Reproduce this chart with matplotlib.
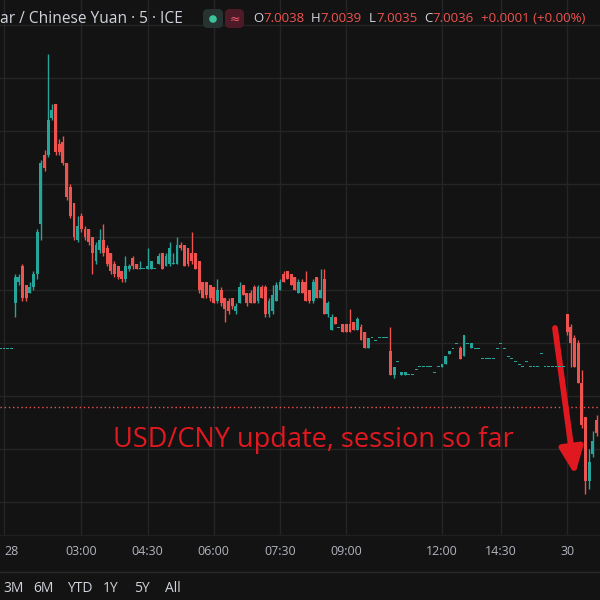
import numpy as np
import matplotlib.pyplot as plt
from matplotlib.patches import FancyBboxPatch, Circle
from matplotlib.lines import Line2D
from matplotlib.ticker import MultipleLocator

# 5-minute bars, USD/CNY
opens = [
    7.0058, 7.0058, 7.0058, 7.0058, 7.0075, 7.0083, 7.0089, 7.0082, 7.0079, 7.0081,
    7.0086, 7.0105, 7.0131, 7.0131, 7.0145, 7.0150, 7.0135, 7.0136, 7.0128, 7.0119,
    7.0113, 7.0099, 7.0108, 7.0103, 7.0103, 7.0100, 7.0091, 7.0095, 7.0099, 7.0096,
    7.0094, 7.0090, 7.0089, 7.0087, 7.0084, 7.0088, 7.0092, 7.0090, 7.0088, 7.0088,
    7.0088, 7.0088, 7.0088, 7.0090, 7.0094, 7.0089, 7.0090, 7.0090, 7.0090, 7.0097,
    7.0097, 7.0096, 7.0094, 7.0094, 7.0091, 7.0083, 7.0083, 7.0082, 7.0081, 7.0076,
    7.0080, 7.0077, 7.0076, 7.0077, 7.0072, 7.0075, 7.0082, 7.0079, 7.0079, 7.0081,
    7.0076, 7.0081, 7.0081, 7.0071, 7.0072, 7.0076, 7.0080, 7.0086, 7.0087, 7.0086,
    7.0085, 7.0079, 7.0083, 7.0083, 7.0080, 7.0076, 7.0085, 7.0077, 7.0084, 7.0071,
    7.0065, 7.0070, 7.0066, 7.0067, 7.0067, 7.0067, 7.0068, 7.0065, 7.0066, 7.0064,
    7.0058, 7.0062, 7.0061, 7.0062, 7.0062, 7.0062, 7.0057, 7.0048, 7.0053, 7.0048,
    7.0048, 7.0048, 7.0048, 7.0050, 7.0051, 7.0051, 7.0051, 7.0051, 7.0049, 7.0051,
    7.0051, 7.0052, 7.0056, 7.0058, 7.0060, 7.0058, 7.0055, 7.0060, 7.0058, 7.0058,
    7.0058, 7.0054, 7.0054, 7.0054, 7.0054, 7.0058, 7.0060, 7.0058, 7.0055, 7.0054,
    7.0053, 7.0052, 7.0051, 7.0053, 7.0051, 7.0051, 7.0051, 7.0056, 7.0051, 7.0051,
    7.0051, 7.0051, 7.0051, 7.0051, 7.0071, 7.0066, 7.0062, 7.0060, 7.0045, 7.0032,
    7.0008, 7.0018, 7.0031,
]
highs = [
    7.0058, 7.0058, 7.0058, 7.0058, 7.0086, 7.0086, 7.0090, 7.0082, 7.0083, 7.0087,
    7.0103, 7.0129, 7.0133, 7.0169, 7.0150, 7.0150, 7.0137, 7.0138, 7.0128, 7.0120,
    7.0113, 7.0108, 7.0109, 7.0104, 7.0103, 7.0100, 7.0098, 7.0103, 7.0105, 7.0097,
    7.0094, 7.0091, 7.0089, 7.0087, 7.0093, 7.0090, 7.0093, 7.0090, 7.0091, 7.0088,
    7.0096, 7.0091, 7.0088, 7.0094, 7.0094, 7.0094, 7.0098, 7.0094, 7.0100, 7.0098,
    7.0097, 7.0096, 7.0102, 7.0094, 7.0091, 7.0083, 7.0083, 7.0082, 7.0081, 7.0084,
    7.0081, 7.0077, 7.0077, 7.0077, 7.0075, 7.0083, 7.0082, 7.0079, 7.0080, 7.0082,
    7.0082, 7.0082, 7.0082, 7.0077, 7.0082, 7.0083, 7.0084, 7.0087, 7.0087, 7.0086,
    7.0085, 7.0084, 7.0084, 7.0087, 7.0080, 7.0084, 7.0085, 7.0088, 7.0088, 7.0076,
    7.0071, 7.0070, 7.0066, 7.0067, 7.0067, 7.0073, 7.0068, 7.0070, 7.0067, 7.0064,
    7.0062, 7.0062, 7.0061, 7.0062, 7.0062, 7.0062, 7.0066, 7.0051, 7.0053, 7.0049,
    7.0049, 7.0048, 7.0048, 7.0050, 7.0051, 7.0051, 7.0051, 7.0051, 7.0049, 7.0051,
    7.0052, 7.0055, 7.0057, 7.0058, 7.0060, 7.0059, 7.0063, 7.0060, 7.0060, 7.0058,
    7.0058, 7.0054, 7.0054, 7.0054, 7.0054, 7.0058, 7.0060, 7.0058, 7.0055, 7.0054,
    7.0053, 7.0052, 7.0051, 7.0053, 7.0051, 7.0051, 7.0051, 7.0056, 7.0051, 7.0051,
    7.0051, 7.0051, 7.0051, 7.0051, 7.0071, 7.0067, 7.0063, 7.0061, 7.0050, 7.0032,
    7.0020, 7.0027, 7.0033,
]
lows = [
    7.0058, 7.0058, 7.0058, 7.0058, 7.0070, 7.0082, 7.0076, 7.0076, 7.0079, 7.0080,
    7.0084, 7.0099, 7.0125, 7.0130, 7.0144, 7.0131, 7.0131, 7.0127, 7.0114, 7.0107,
    7.0099, 7.0098, 7.0102, 7.0099, 7.0097, 7.0086, 7.0090, 7.0094, 7.0093, 7.0089,
    7.0086, 7.0085, 7.0084, 7.0083, 7.0083, 7.0087, 7.0088, 7.0088, 7.0088, 7.0088,
    7.0088, 7.0088, 7.0088, 7.0090, 7.0088, 7.0089, 7.0089, 7.0090, 7.0090, 7.0095,
    7.0089, 7.0089, 7.0090, 7.0088, 7.0079, 7.0077, 7.0077, 7.0076, 7.0075, 7.0075,
    7.0074, 7.0068, 7.0071, 7.0073, 7.0071, 7.0075, 7.0078, 7.0074, 7.0075, 7.0075,
    7.0075, 7.0077, 7.0070, 7.0070, 7.0071, 7.0076, 7.0080, 7.0083, 7.0084, 7.0082,
    7.0080, 7.0079, 7.0079, 7.0076, 7.0075, 7.0075, 7.0077, 7.0077, 7.0071, 7.0070,
    7.0065, 7.0067, 7.0066, 7.0064, 7.0064, 7.0064, 7.0065, 7.0065, 7.0061, 7.0058,
    7.0058, 7.0062, 7.0061, 7.0062, 7.0062, 7.0062, 7.0048, 7.0047, 7.0053, 7.0048,
    7.0048, 7.0048, 7.0048, 7.0050, 7.0051, 7.0051, 7.0051, 7.0051, 7.0049, 7.0051,
    7.0051, 7.0052, 7.0056, 7.0058, 7.0060, 7.0054, 7.0055, 7.0060, 7.0058, 7.0058,
    7.0058, 7.0054, 7.0054, 7.0054, 7.0054, 7.0058, 7.0060, 7.0058, 7.0055, 7.0054,
    7.0053, 7.0052, 7.0051, 7.0053, 7.0051, 7.0051, 7.0051, 7.0056, 7.0051, 7.0051,
    7.0051, 7.0051, 7.0051, 7.0051, 7.0063, 7.0051, 7.0051, 7.0045, 7.0028, 7.0003,
    7.0005, 7.0017, 7.0025,
]
closes = [
    7.0058, 7.0058, 7.0058, 7.0058, 7.0085, 7.0085, 7.0077, 7.0077, 7.0081, 7.0086,
    7.0102, 7.0128, 7.0126, 7.0144, 7.0148, 7.0132, 7.0132, 7.0128, 7.0115, 7.0108,
    7.0100, 7.0104, 7.0103, 7.0100, 7.0098, 7.0094, 7.0097, 7.0099, 7.0094, 7.0090,
    7.0087, 7.0086, 7.0085, 7.0084, 7.0089, 7.0089, 7.0089, 7.0088, 7.0088, 7.0088,
    7.0089, 7.0091, 7.0088, 7.0093, 7.0088, 7.0093, 7.0096, 7.0090, 7.0097, 7.0096,
    7.0089, 7.0090, 7.0091, 7.0088, 7.0080, 7.0077, 7.0078, 7.0077, 7.0075, 7.0080,
    7.0075, 7.0073, 7.0072, 7.0074, 7.0074, 7.0081, 7.0078, 7.0075, 7.0075, 7.0075,
    7.0081, 7.0077, 7.0071, 7.0076, 7.0078, 7.0082, 7.0083, 7.0083, 7.0084, 7.0082,
    7.0080, 7.0083, 7.0079, 7.0076, 7.0076, 7.0083, 7.0077, 7.0080, 7.0071, 7.0075,
    7.0070, 7.0067, 7.0066, 7.0064, 7.0064, 7.0064, 7.0065, 7.0069, 7.0061, 7.0058,
    7.0062, 7.0062, 7.0061, 7.0062, 7.0062, 7.0062, 7.0048, 7.0051, 7.0053, 7.0049,
    7.0049, 7.0048, 7.0048, 7.0050, 7.0051, 7.0051, 7.0051, 7.0051, 7.0049, 7.0051,
    7.0052, 7.0055, 7.0057, 7.0058, 7.0060, 7.0054, 7.0063, 7.0060, 7.0060, 7.0058,
    7.0058, 7.0054, 7.0054, 7.0054, 7.0054, 7.0058, 7.0060, 7.0058, 7.0055, 7.0054,
    7.0053, 7.0052, 7.0051, 7.0053, 7.0051, 7.0051, 7.0051, 7.0056, 7.0051, 7.0051,
    7.0051, 7.0051, 7.0051, 7.0051, 7.0064, 7.0060, 7.0051, 7.0045, 7.0029, 7.0008,
    7.0015, 7.0023, 7.0026,
]

tick_bars = [1, 22, 40, 58, 76, 94, 120, 136, 154]
tick_labels = ['28', '03:00', '04:30', '06:00', '07:30', '09:00', '12:00', '14:30', '30']
last_price = 7.0036

header_title = 'ar / Chinese Yuan · 5 · ICE'
header_ohlc = [('O', '7.0038'), ('H', '7.0039'), ('L', '7.0035'), ('C', '7.0036')]
header_change = '+0.0001 (+0.00%)'
range_buttons = ['3M', '6M', 'YTD', '1Y', '5Y', 'All']
note = 'USD/CNY update, session so far'

BG = '#131313'
GRID = '#252525'
UP = '#26a69a'
DOWN = '#ef5350'
TXT = '#d1d4dc'
NOTE_RED = '#e0181f'

plt.rcParams['font.family'] = ['Open Sans', 'DejaVu Sans']

W, H = 600, 600
fig = plt.figure(figsize=(6, 6), dpi=100, facecolor=BG)
ax = fig.add_axes([0, 65 / H, 1, 535 / H], facecolor=BG)

o, hi, lo, c = map(np.array, (opens, highs, lows, closes))
x = np.arange(len(o))
col = np.where(c >= o, UP, DOWN)

# candles: wicks then bodies (flat bars still get a thin dash)
ax.vlines(x, lo, hi, colors=col, linewidth=1, zorder=3)
body = np.maximum(np.abs(c - o), 0.00004)
ax.bar(x, body, bottom=(o + c) / 2 - body / 2, width=0.78, color=col,
       linewidth=0, zorder=4)

# last price line
ax.axhline(last_price, color=DOWN, lw=1, ls=(0, (1, 2)), zorder=2)

ax.set_xlim(-0.1, 162.95)
ax.set_ylim(6.99876, 7.01894)
ax.yaxis.set_major_locator(MultipleLocator(0.002))
ax.set_xticks(tick_bars)
ax.set_xticklabels(tick_labels)
ax.grid(True, color=GRID, lw=1)
ax.set_axisbelow(True)
ax.tick_params(axis='x', length=0, pad=7, colors='#b2b5be', labelsize=9)
ax.tick_params(axis='y', left=False, labelleft=False)
# the first day label sits at the very left edge: keep it inside the figure
first = ax.get_xticklabels()[0]
first.set_horizontalalignment('left')
first.set_x(-0.1)
for s in ax.spines.values():
    s.set_visible(False)


def fx(px):
    return px / W


def fy(py):
    return 1 - py / H


# separators of the time scale / bottom toolbar
fig.add_artist(Line2D([0, 1], [fy(535)] * 2, color='#202020', lw=1))
fig.add_artist(Line2D([0, 1], [fy(572)] * 2, color='#2a2a2a', lw=1))

# annotation
fig.text(fx(113), fy(440), note, color=NOTE_RED, fontsize=19.5, va='center', ha='left')
ax.annotate('', xy=(575, H - 475), xycoords='figure pixels',
            xytext=(555, H - 328), textcoords='figure pixels',
            arrowprops=dict(arrowstyle='-|>,head_length=0.8,head_width=0.35',
                            mutation_scale=20, color=NOTE_RED, lw=4.2,
                            shrinkA=0, shrinkB=0))

# header
fig.canvas.draw()
r = fig.canvas.get_renderer()
hy = fy(19)


def put(xpix, s, color, size=9.5):
    t = fig.text(fx(xpix), hy, s, color=color, fontsize=size, va='center', ha='left')
    return t.get_window_extent(renderer=r).x1


put(0, header_title, TXT, size=11.2)
fig.add_artist(FancyBboxPatch((fx(203), fy(28)), fx(20), 19 / H,
                              boxstyle='round,pad=0,rounding_size=0.008',
                              transform=fig.transFigure, fc='#263330', ec='none'))
fig.add_artist(Circle((fx(213), hy), 3.8 / W, transform=fig.transFigure,
                      fc='#3cc39a', ec='none'))
fig.add_artist(FancyBboxPatch((fx(225), fy(28)), fx(19), 19 / H,
                              boxstyle='round,pad=0,rounding_size=0.008',
                              transform=fig.transFigure, fc='#4d1a28', ec='none'))
fig.text(fx(234.5), hy, '≈', color='#f05a73', fontsize=9, ha='center', va='center',
         family='DejaVu Sans')

xp = 253
for k, v in header_ohlc:
    xe = put(xp, k, TXT)
    xe = put(xe, v, DOWN)
    xp = xe + 7
put(xp, header_change, DOWN)

# range buttons
for b, bx in zip(range_buttons, [3, 33, 67, 103, 134, 165]):
    fig.text(fx(bx), fy(588), b, color=TXT, fontsize=10, va='center', ha='left')

fig.savefig('out.png', dpi=100, facecolor=BG)
